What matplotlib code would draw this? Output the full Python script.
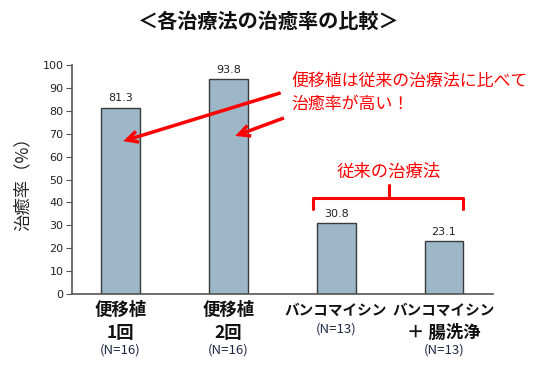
import matplotlib
matplotlib.use("Agg")
import matplotlib.pyplot as plt
from matplotlib import transforms
from matplotlib.patches import FancyArrowPatch

plt.rcParams['font.family'] = ['Noto Sans CJK JP', 'DejaVu Sans']

categories = ["便移植\n1回", "便移植\n2回", "バンコマイシン", "バンコマイシン\n＋ 腸洗浄"]
n_labels = ["(N=16)", "(N=16)", "(N=13)", "(N=13)"]
values = [81.3, 93.8, 30.8, 23.1]
yticks = list(range(0, 101, 10))

W, H = 538, 369
fig = plt.figure(figsize=(W/100, H/100), dpi=100)
ax = fig.add_axes([72/W, 1-294/H, (493-72)/W, (294-65)/H])

x = list(range(len(categories)))
ax.bar(x, values, width=0.36, color="#9db7c9", edgecolor="#3a3a3a", linewidth=1.0, zorder=2)
for xi, v in zip(x, values):
    ax.text(xi, v + 2, f"{v}", ha="center", va="bottom", fontsize=8,
            family="DejaVu Sans", color="#222222")

ax.set_xlim(-0.45, 3.455)
ax.set_ylim(0, 100)
ax.set_yticks(yticks)
ax.set_yticklabels([str(t) for t in yticks], fontsize=8, family="DejaVu Sans", color="#222222")
ax.set_xticks([])
for s in ["top", "right"]:
    ax.spines[s].set_visible(False)
ax.spines["left"].set_color("#555555")
ax.spines["bottom"].set_color("#555555")
ax.spines["left"].set_linewidth(1.2)
ax.spines["bottom"].set_linewidth(1.2)
ax.tick_params(axis="y", length=4, color="#555555", pad=2)

ax.set_ylabel("治癒率（%）", fontsize=12.5, labelpad=8, color="#222222")

# category labels
tr = transforms.blended_transform_factory(ax.transData, fig.transFigure)
def fy(py):
    return 1 - py/H
for xi, cat, nl in zip(x, categories, n_labels):
    lines = cat.split("\n")
    ys = [310, 333]
    for li, line in enumerate(lines):
        fs = 10.5 if "バ" in line else 12.5
        ax.text(xi, fy(ys[li]), line, transform=tr, ha="center", va="center",
                fontsize=fs, fontweight="bold", color="#111111")
    ny = 350 if len(lines) == 2 else 329
    ax.text(xi, fy(ny), nl, transform=tr, ha="center", va="center",
            fontsize=9.5, color="#1f2a44")

fig.text(0.5, 1-21/H, "＜各治療法の治癒率の比較＞", ha="center", va="center",
         fontsize=14.5, fontweight="bold", color="#111111")

# red annotation text
ax.text(1.585, 92.6, "便移植は従来の治療法に比べて", ha="left", va="center",
        fontsize=12.2, color="#ff0000", clip_on=False)
ax.text(1.585, 83.0, "治癒率が高い！", ha="left", va="center",
        fontsize=12.2, color="#ff0000", clip_on=False)

for (x0, y0), (x1, y1) in [((1.51, 88.2), (0.0, 66.4)), ((1.54, 77.3), (1.04, 68.6))]:
    arr = FancyArrowPatch((x0, y0), (x1, y1), arrowstyle="->,head_length=8,head_width=4",
                          color="#ff0000", lw=2.5, mutation_scale=1, zorder=5, clip_on=False,
                          joinstyle="miter", capstyle="butt")
    ax.add_patch(arr)

# brace
bx0, bx1, bm = 1.79, 3.18, 2.49
ytop, ybot, ytip = 41.9, 37.1, 47.6
ax.plot([bx0, bx0, bx1, bx1], [ybot, ytop, ytop, ybot], color="#ff0000", lw=2.2,
        solid_joinstyle="round", solid_capstyle="round", zorder=5)
ax.plot([bm, bm], [ytop, ytip], color="#ff0000", lw=2.2, solid_capstyle="round", zorder=5)
ax.text(bm, 53.3, "従来の治療法", ha="center", va="center", fontsize=12.5, color="#ff0000")

fig.savefig("out.png", dpi=100)
